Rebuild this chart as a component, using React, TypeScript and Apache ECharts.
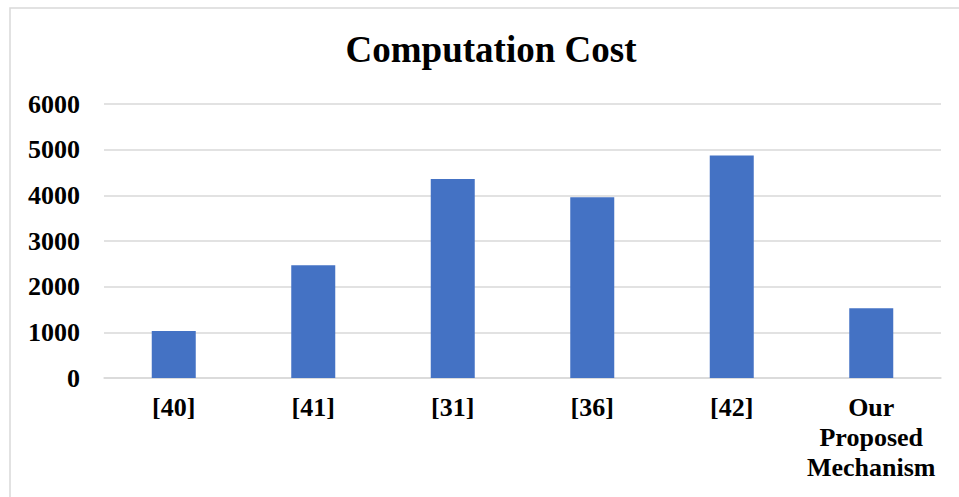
import React, { useEffect, useRef } from "react";
import * as echarts from "echarts";

const categories = ["[40]", "[41]", "[31]", "[36]", "[42]", "Our\nProposed\nMechanism"];
const values = [1030, 2470, 4360, 3960, 4870, 1530];
const yTicks = { min: 0, max: 6000, interval: 1000 };
const titleText = "Computation Cost";

const FONT = "'Liberation Serif', 'Times New Roman', serif";

export default function App() {
  const ref = useRef<HTMLDivElement>(null);
  useEffect(() => {
    if (!ref.current) return;
    const chart = echarts.init(ref.current, null, { renderer: "svg" });
    chart.setOption({
      animation: false,
      backgroundColor: "#ffffff",
      title: {
        text: titleText,
        left: 486,
        textAlign: "center",
        top: 26,
        textStyle: { fontFamily: FONT, fontSize: 37, fontWeight: "bold", color: "#000" },
      },
      graphic: [
        {
          type: "rect",
          shape: { x: 10, y: 8, width: 980, height: 520 },
          style: { fill: "none", stroke: "#d9d9d9", lineWidth: 1.5 },
          silent: true,
        },
      ],
      grid: { left: 104, right: 18, top: 104, bottom: 119, containLabel: false },
      xAxis: {
        type: "category",
        data: categories,
        axisLine: { show: true, lineStyle: { color: "#d9d9d9", width: 1.5 } },
        axisTick: { show: false },
        axisLabel: {
          interval: 0,
          margin: 14,
          fontFamily: FONT,
          fontSize: 26,
          fontWeight: "bold",
          color: "#000",
          lineHeight: 30,
        },
      },
      yAxis: {
        type: "value",
        min: yTicks.min,
        max: yTicks.max,
        interval: yTicks.interval,
        axisLine: { show: false },
        axisTick: { show: false },
        splitLine: { show: true, lineStyle: { color: "#d9d9d9", width: 1.5 } },
        axisLabel: {
          margin: 24,
          fontFamily: FONT,
          fontSize: 26,
          fontWeight: "bold",
          color: "#000",
          formatter: (v: number) => String(v),
        },
      },
      series: [
        {
          type: "bar",
          data: values,
          barWidth: 44,
          itemStyle: { color: "#4472c4" },
        },
      ],
    });
    return () => chart.dispose();
  }, []);
  return (
    <div
      ref={ref}
      style={{ position: "absolute", left: 0, top: 0, width: 959, height: 497 }}
    />
  );
}
